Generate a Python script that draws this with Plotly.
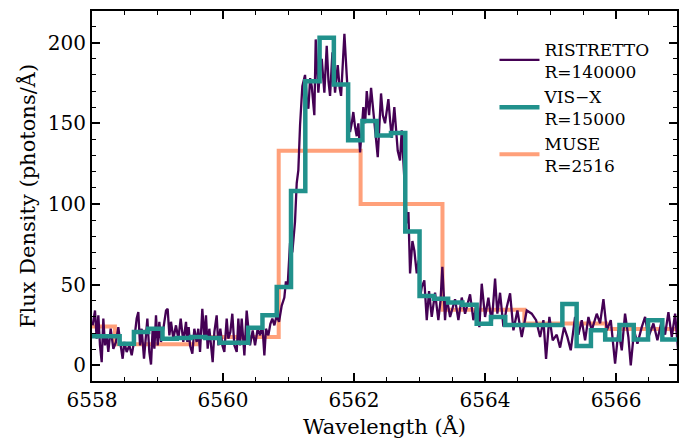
import plotly.graph_objects as go

# ---------------- data ----------------
# RISTRETTO (R=140000) high-resolution spectrum
ristretto_wl = [
    6558.010, 6558.046, 6558.071, 6558.097, 6558.122, 6558.148, 6558.173, 6558.198, 6558.224, 6558.249,
    6558.285, 6558.326, 6558.366, 6558.402, 6558.438, 6558.468, 6558.494, 6558.529, 6558.570, 6558.606,
    6558.641, 6558.682, 6558.707, 6558.733, 6558.758, 6558.794, 6558.824, 6558.845, 6558.875, 6558.901,
    6558.926, 6558.952, 6558.977, 6559.003, 6559.028, 6559.053, 6559.089, 6559.130, 6559.155, 6559.181,
    6559.206, 6559.242, 6559.282, 6559.318, 6559.354, 6559.394, 6559.435, 6559.455, 6559.476, 6559.496,
    6559.532, 6559.562, 6559.598, 6559.623, 6559.649, 6559.684, 6559.715, 6559.740, 6559.766, 6559.791,
    6559.817, 6559.842, 6559.868, 6559.903, 6559.929, 6559.959, 6559.990, 6560.020, 6560.056, 6560.081,
    6560.112, 6560.142, 6560.173, 6560.209, 6560.234, 6560.260, 6560.285, 6560.326, 6560.361, 6560.387,
    6560.412, 6560.453, 6560.489, 6560.529, 6560.565, 6560.601, 6560.631, 6560.656, 6560.692, 6560.723,
    6560.753, 6560.784, 6560.819, 6560.855, 6560.896, 6560.936, 6560.960, 6560.985, 6561.023, 6561.058,
    6561.099, 6561.125, 6561.150, 6561.176, 6561.211, 6561.252, 6561.278, 6561.303, 6561.330, 6561.354,
    6561.394, 6561.415, 6561.455, 6561.480, 6561.507, 6561.547, 6561.583, 6561.610, 6561.634, 6561.670,
    6561.710, 6561.751, 6561.780, 6561.802, 6561.853, 6561.888, 6561.915, 6561.939, 6561.965, 6561.989,
    6562.015, 6562.041, 6562.066, 6562.092, 6562.142, 6562.170, 6562.194, 6562.230, 6562.260, 6562.295,
    6562.330, 6562.362, 6562.412, 6562.440, 6562.473, 6562.524, 6562.550, 6562.575, 6562.615, 6562.640,
    6562.667, 6562.702, 6562.728, 6562.755, 6562.779, 6562.805, 6562.830, 6562.855, 6562.891, 6562.921,
    6562.957, 6562.985, 6563.008, 6563.034, 6563.073, 6563.110, 6563.145, 6563.186, 6563.237, 6563.287,
    6563.320, 6563.348, 6563.389, 6563.415, 6563.466, 6563.542, 6563.593, 6563.644, 6563.695, 6563.771,
    6563.822, 6563.873, 6563.913, 6563.949, 6564.000, 6564.051, 6564.102, 6564.153, 6564.188, 6564.229,
    6564.280, 6564.331, 6564.382, 6564.433, 6564.494, 6564.560, 6564.636, 6564.712, 6564.779, 6564.840,
    6564.891, 6564.931, 6564.982, 6565.033, 6565.094, 6565.145, 6565.206, 6565.257, 6565.308, 6565.374,
    6565.425, 6565.476, 6565.527, 6565.578, 6565.628, 6565.705, 6565.756, 6565.807, 6565.858, 6565.919,
    6565.985, 6566.036, 6566.087, 6566.137, 6566.188, 6566.224, 6566.275, 6566.326, 6566.392, 6566.443,
    6566.494, 6566.570, 6566.631, 6566.697, 6566.748, 6566.799, 6566.850, 6566.901, 6566.952, 6566.990,
]
ristretto_flux = [
    24.8, 34.0, 16.5, 31.0, 12.4, 2.0, 29.0, 12.4, 18.6, 8.3,
    22.7, 10.3, 14.5, 23.7, 12.4, 4.1, 14.5, 8.3, 12.4, 6.2,
    14.5, 29.0, 33.0, 12.4, 22.7, 4.1, 18.6, 29.0, 8.3, 0.5,
    22.7, 10.3, 31.0, 12.4, 27.0, 14.5, 22.7, 34.0, 35.0, 18.6,
    27.0, 16.5, 24.8, 16.5, 29.0, 14.5, 27.0, 14.5, 23.7, 12.4,
    7.2, 22.7, 14.5, 22.7, 8.3, 35.0, 16.5, 31.0, 10.3, 22.7,
    12.4, 2.0, 20.7, 31.0, 12.4, 22.7, 12.4, 8.3, 29.0, 16.5,
    20.7, 32.0, 12.4, 8.3, 29.0, 12.4, 29.0, 6.2, 34.0, 20.7,
    12.4, 21.7, 12.4, 22.7, 18.6, 24.8, 6.2, 22.7, 18.6, 25.8,
    29.0, 24.8, 31.0, 27.0, 37.0, 42.0, 52.0, 48.0, 76.0, 70.0,
    89.0, 113.0, 121.0, 149.0, 173.0, 180.0, 165.0, 159.0, 178.0, 173.0,
    155.0, 202.0, 169.0, 182.0, 190.0, 169.0, 198.0, 176.0, 167.0, 194.0,
    169.0, 186.0, 172.0, 167.0, 205.5, 180.0, 160.0, 144.6, 150.0, 157.0,
    148.0, 142.0, 150.0, 132.0, 160.0, 150.0, 170.0, 155.0, 172.0, 158.0,
    140.0, 129.0, 168.5, 155.0, 150.0, 165.0, 152.0, 141.0, 160.0, 145.0,
    133.0, 127.0, 145.6, 125.0, 104.0, 88.0, 95.0, 57.0, 77.0, 71.0,
    57.0, 65.0, 42.0, 48.5, 52.7, 28.0, 46.0, 30.0, 45.0, 28.0,
    40.0, 61.0, 28.0, 42.0, 30.0, 41.0, 28.0, 42.0, 32.0, 44.0,
    28.0, 38.0, 23.7, 50.6, 30.0, 42.0, 26.0, 53.7, 32.0, 45.0,
    24.0, 36.0, 44.6, 21.7, 34.0, 17.5, 34.0, 32.0, 28.0, 17.5,
    28.0, 4.0, 30.0, 15.5, 19.0, 11.0, 23.7, 17.5, 9.3, 30.0,
    19.0, 28.0, 15.5, 30.0, 21.7, 32.0, 26.0, 41.0, 21.7, 28.0,
    1.0, 21.7, 9.3, 32.0, 17.5, 0.0, 21.7, 13.4, 23.7, 30.0,
    17.5, 26.0, 15.5, 28.0, 19.0, 33.0, 17.5, 32.0, 7.0, 14.0,
]

# VIS-X (R=15000): bin edges and binned flux
visx_edges = [
    6557.986, 6558.204, 6558.422, 6558.640, 6558.858, 6559.076, 6559.294, 6559.512, 6559.730, 6559.948,
    6560.166, 6560.384, 6560.602, 6560.820, 6561.038, 6561.256, 6561.474, 6561.692, 6561.910, 6562.128,
    6562.346, 6562.564, 6562.782, 6563.000, 6563.218, 6563.436, 6563.654, 6563.872, 6564.090, 6564.308,
    6564.526, 6564.744, 6564.962, 6565.180, 6565.398, 6565.616, 6565.834, 6566.052, 6566.270, 6566.488,
    6566.706, 6566.924, 6567.142,
]
visx_flux = [
    18.0, 18.0, 13.4, 20.6, 22.7, 16.5, 17.0, 17.5, 17.0, 14.0,
    14.0, 23.3, 31.0, 48.5, 108.0, 176.0, 203.0, 174.0, 139.5, 151.5,
    142.5, 144.0, 83.0, 43.0, 41.3, 39.0, 37.5, 25.8, 30.0, 25.0,
    25.0, 25.0, 25.0, 38.0, 12.0, 21.7, 16.0, 25.0, 16.0, 28.0,
    16.0, 16.0,
]

# MUSE (R=2516): bin edges and binned flux
muse_edges = [6557.10, 6558.35, 6559.60, 6560.85, 6562.10, 6563.35, 6564.60, 6565.85, 6567.10]
muse_flux = [24.0, 13.0, 17.5, 133.0, 100.0, 34.5, 26.0, 22.5]

series_names = ["RISTRETTO<br>R=140000", "VIS\u2212X<br>R=15000", "MUSE<br>R=2516"]
x_ticks = [6558, 6560, 6562, 6564, 6566]
y_ticks = [0, 50, 100, 150, 200]

# ---------------- figure ----------------
FONT = "DejaVu Serif"
fig = go.Figure()

fig.add_trace(go.Scatter(
    x=muse_edges, y=muse_flux + [muse_flux[-1]], mode="lines", line_shape="hv",
    line=dict(color="#ffa07a", width=4), name=series_names[2], legendrank=3,
))
fig.add_trace(go.Scatter(
    x=ristretto_wl, y=ristretto_flux, mode="lines",
    line=dict(color="#440154", width=2.3), name=series_names[0], legendrank=1,
))
fig.add_trace(go.Scatter(
    x=visx_edges, y=visx_flux + [visx_flux[-1]], mode="lines", line_shape="hv",
    line=dict(color="#21918c", width=4.5), name=series_names[1], legendrank=2,
))

axis_common = dict(
    showline=True, linewidth=2, linecolor="black", mirror="allticks",
    ticks="inside", ticklen=8, tickwidth=1.5, tickcolor="black",
    showgrid=False, zeroline=False, automargin=False,
    tickfont=dict(family=FONT, size=20, color="black"),
)

fig.update_xaxes(
    range=[6558, 6566.93], tickvals=x_ticks, ticktext=[str(v) for v in x_ticks],
    minor=dict(dtick=0.5, ticks="inside", ticklen=4, tickwidth=1, tickcolor="black"),
    title=dict(text="Wavelength (\u00c5)", font=dict(family=FONT, size=21, color="black"), standoff=8),
    **axis_common,
)
fig.update_yaxes(
    range=[-9.7, 219.6], tickvals=y_ticks, ticktext=[str(v) for v in y_ticks],
    minor=dict(dtick=10, ticks="inside", ticklen=4, tickwidth=1, tickcolor="black"),
    title=dict(text="Flux Density (photons/\u00c5)", font=dict(family=FONT, size=21, color="black"), standoff=6),
    **axis_common,
)

fig.update_layout(
    width=680, height=443,
    margin=dict(l=92, r=3, t=11, b=62),
    plot_bgcolor="white", paper_bgcolor="white",
    legend=dict(
        x=0.688, y=0.945, xanchor="left", yanchor="top",
        font=dict(family=FONT, size=17, color="black"),
        bgcolor="rgba(0,0,0,0)", valign="middle", tracegroupgap=1,
        itemwidth=40,
    ),
)

fig.write_html(
    "out.html",
    config={"displayModeBar": False},
    post_script="document.body.style.margin='0px';",
)
